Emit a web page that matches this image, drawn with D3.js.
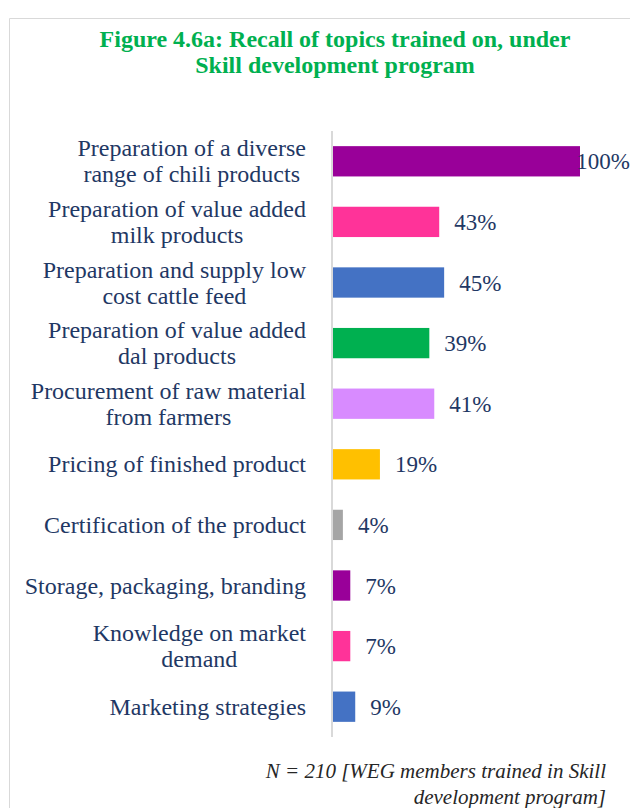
<!DOCTYPE html>
<html>
<meta charset="utf-8">
<head>
  <title>Recall of topics trained on</title>
</head>

<style>
body { margin: 0; background: white; }
text { font-family: "Liberation Serif", "Times New Roman", serif; }
.cat { fill: #1f3864; font-size: 24px; }
.val { fill: #1f3864; font-size: 23px; }
.title { fill: #00b050; font-size: 24px; font-weight: bold; text-anchor: middle; }
.note { fill: #262626; font-size: 21px; font-style: italic; text-anchor: end; }
</style>

<body>
  <svg width="630" height="808"></svg>

  <script src="https://cdnjs.cloudflare.com/ajax/libs/d3/7.8.5/d3.min.js"></script>
  <script>
var topics = [
  ["Preparation of a diverse", "range of chili products"],
  ["Preparation of value added", "milk products"],
  ["Preparation and supply low", "cost cattle feed"],
  ["Preparation of value added", "dal products"],
  ["Procurement of raw material", "from farmers"],
  ["Pricing of finished product"],
  ["Certification of the product"],
  ["Storage, packaging, branding"],
  ["Knowledge on market", "demand"],
  ["Marketing strategies"]
];
var shares = [1.00, 0.43, 0.45, 0.39, 0.41, 0.19, 0.04, 0.07, 0.07, 0.09];
var barColors = ["#990099", "#ff3399", "#4472c4", "#00b050", "#d88bff",
                 "#ffc000", "#a5a5a5", "#990099", "#ff3399", "#4472c4"];
var titleLines = ["Figure 4.6a: Recall of topics trained on, under", "Skill development program"];
var noteLines = ["N = 210 [WEG members trained in Skill", "development program]"];

var svg = d3.select("svg");

// chart frame
svg.append("path")
  .attr("d", "M9.5,808 V18.5 H630")
  .attr("fill", "none")
  .attr("stroke", "#d9d9d9");

var y = d3.scaleBand()
  .domain(d3.range(topics.length))
  .range([131, 737])
  .paddingInner(0.5)
  .paddingOuter(0.25);

var x = d3.scaleLinear()
  .domain([0, 1])
  .range([333, 580]);

svg.selectAll("text.title")
  .data(titleLines)
  .enter()
  .append("text")
  .attr("class", "title")
  .attr("x", 335)
  .attr("y", function(d, i) { return 47 + i * 26; })
  .text(function(d) { return d; });

svg.selectAll("rect.bar")
  .data(shares)
  .enter()
  .append("rect")
  .attr("class", "bar")
  .attr("x", x(0))
  .attr("y", function(d, i) { return y(i); })
  .attr("width", function(d) { return x(d) - x(0); })
  .attr("height", y.bandwidth())
  .attr("fill", function(d, i) { return barColors[i]; });

// vertical axis line
svg.append("line")
  .attr("x1", 332).attr("x2", 332)
  .attr("y1", y.range()[0]).attr("y2", y.range()[1])
  .attr("stroke", "#d9d9d9")
  .attr("stroke-width", 2);

// category labels: lines centred on each other, block right-aligned
var catGroups = svg.selectAll("g.cat")
  .data(topics)
  .enter()
  .append("g")
  .attr("class", "cat");

catGroups.each(function(lines, i) {
  var g = d3.select(this);
  var cy = y(i) + y.bandwidth() / 2;
  var texts = g.selectAll("text")
    .data(lines)
    .enter()
    .append("text")
    .attr("class", "cat")
    .attr("text-anchor", "middle")
    .attr("y", function(d, j) { return cy + 8 + (j - (lines.length - 1) / 2) * 26; })
    .text(function(d) { return d; });
  var maxW = d3.max(texts.nodes(), function(n) { return n.getComputedTextLength(); });
  texts.attr("x", 306 - maxW / 2);
});

svg.selectAll("text.val")
  .data(shares)
  .enter()
  .append("text")
  .attr("class", "val")
  .attr("y", function(d, i) { return y(i) + y.bandwidth() / 2 + 8; })
  .text(function(d) { return d3.format(".0%")(d); })
  .attr("x", function(d) {
    var w = this.getComputedTextLength();
    return Math.min(x(d) + 15, 630 - w);
  });

svg.selectAll("text.note")
  .data(noteLines)
  .enter()
  .append("text")
  .attr("class", "note")
  .attr("x", 606)
  .attr("y", function(d, i) { return 778 + i * 26; })
  .text(function(d) { return d; });
  </script>
</body>
</html>
